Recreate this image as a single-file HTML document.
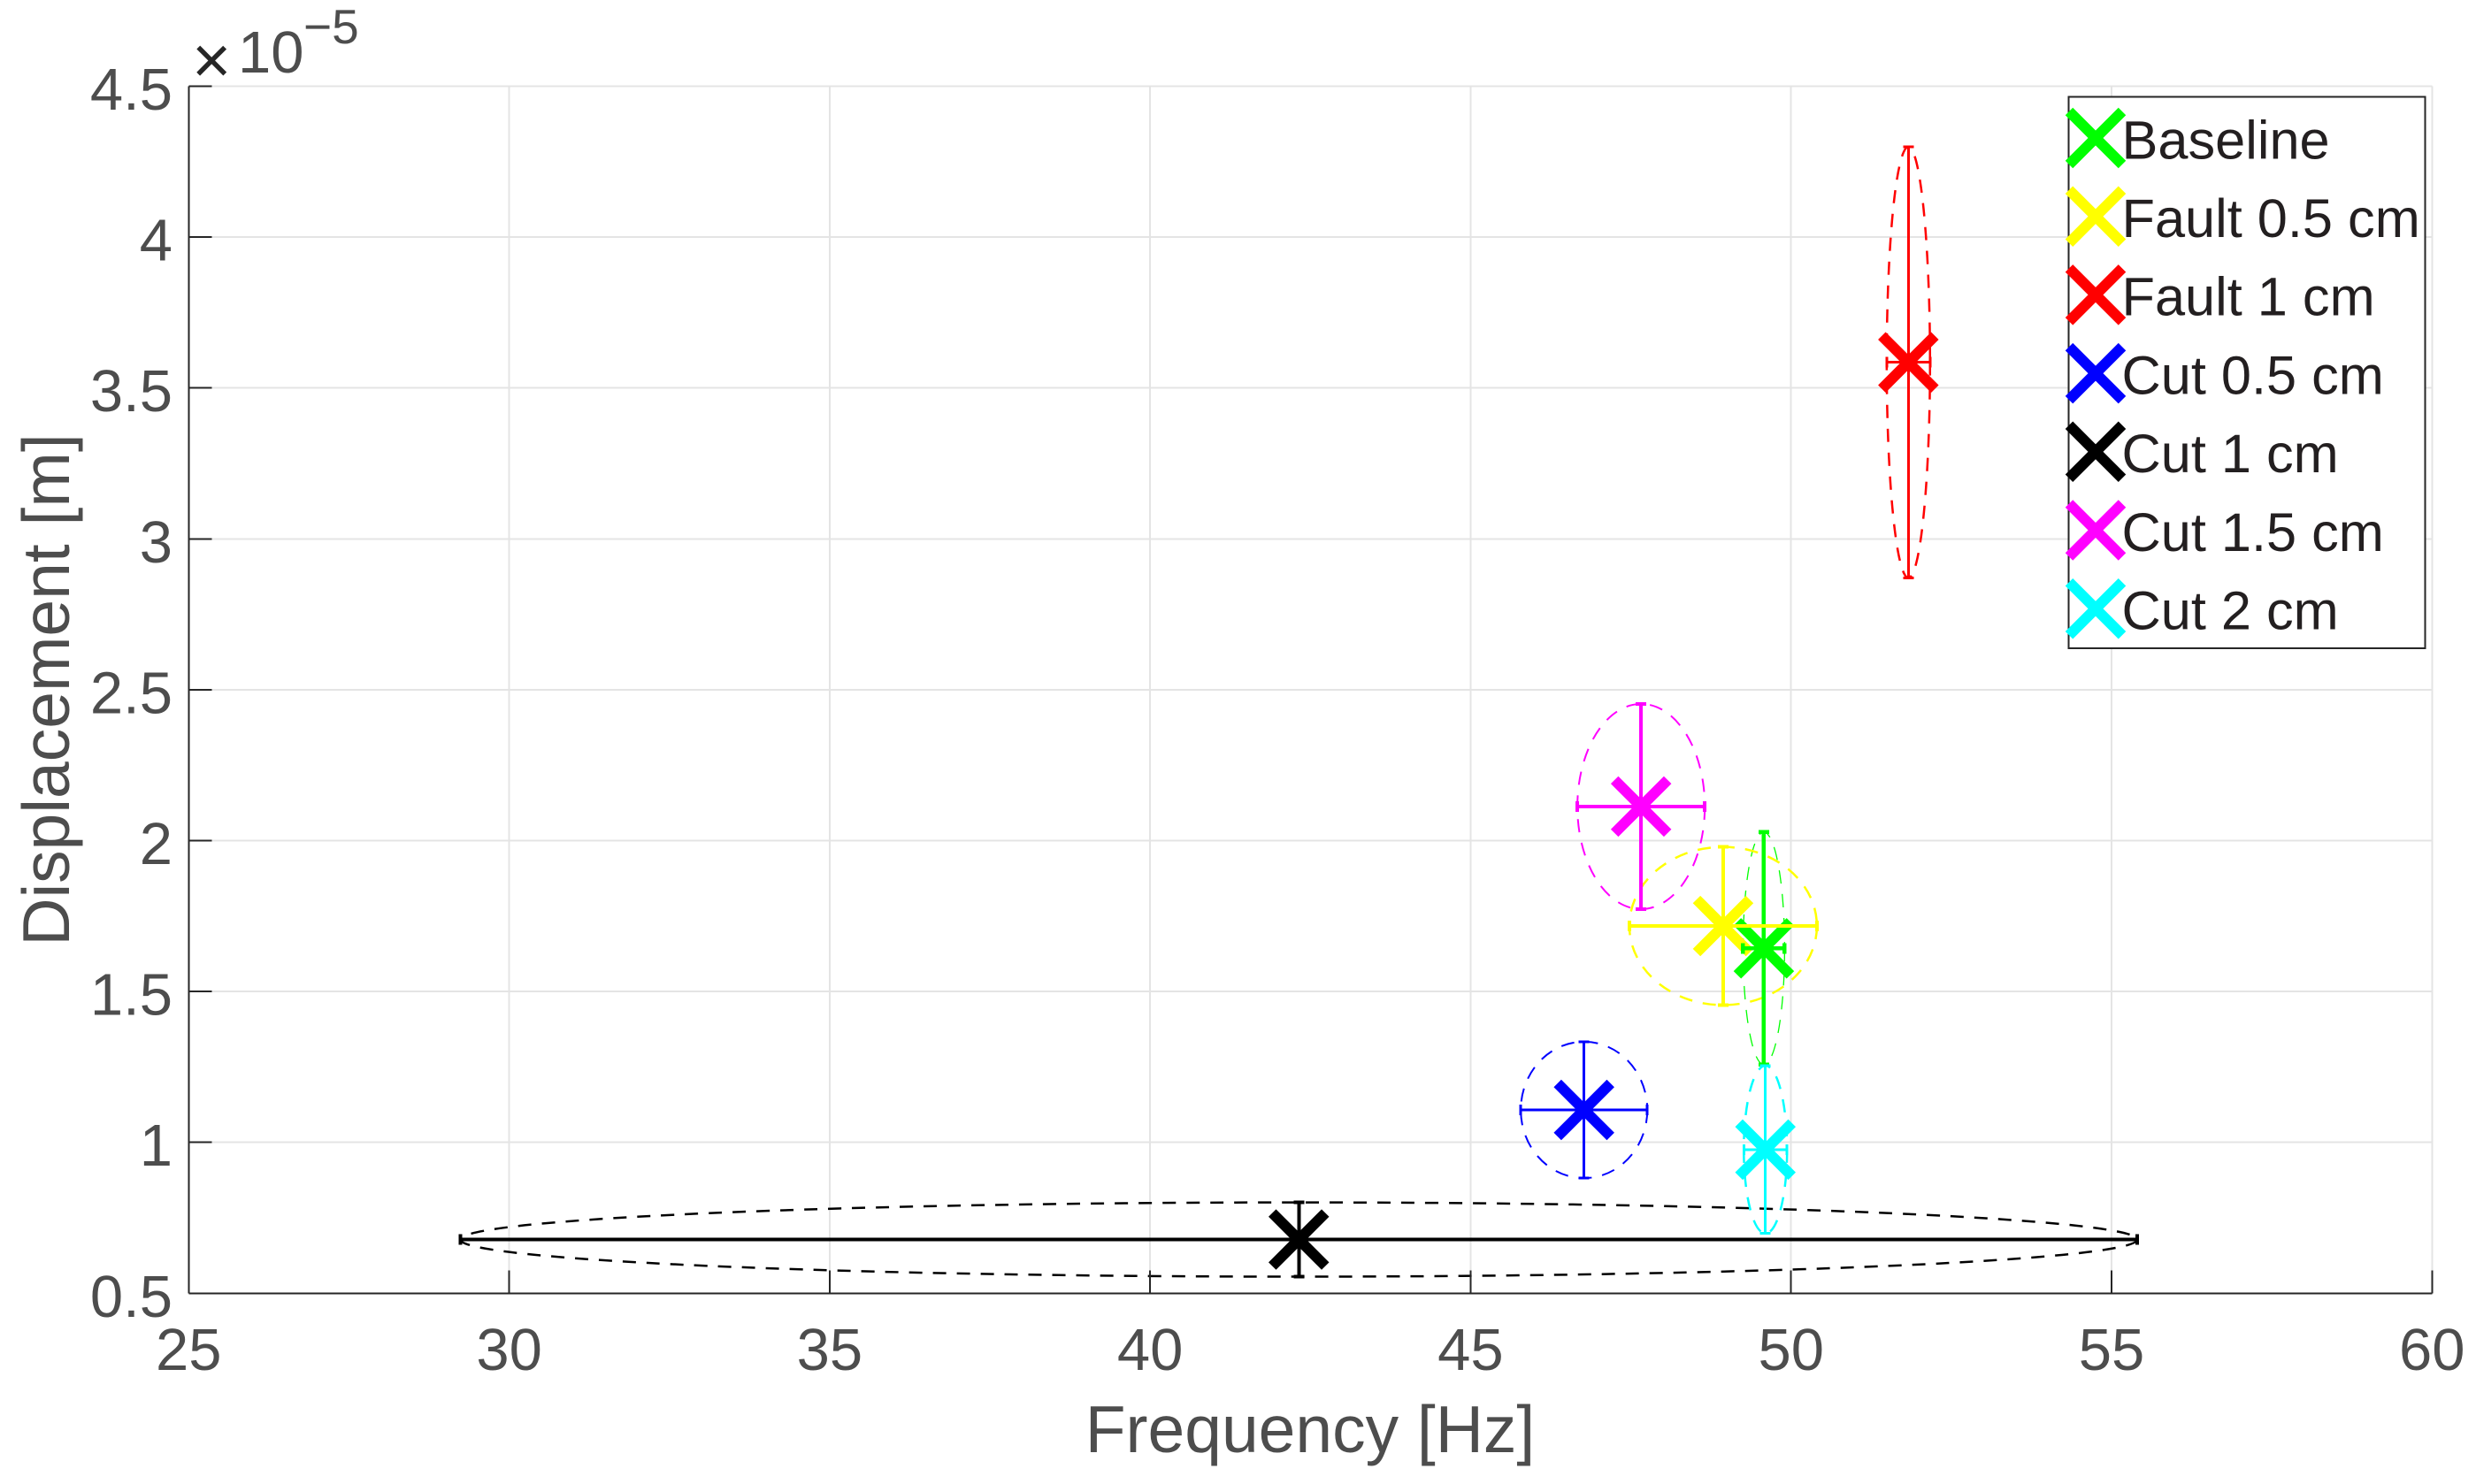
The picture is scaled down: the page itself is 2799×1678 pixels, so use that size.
<!DOCTYPE html>
<html lang="en">
<head>
<meta charset="utf-8">
<title>Displacement versus frequency</title>
<style>
html,body{margin:0;padding:0;background:#fff;}
svg{display:block;font-family:"Liberation Sans",Arial,sans-serif;}
</style>
</head>
<body>
<svg id="chart" xmlns="http://www.w3.org/2000/svg" width="2799" height="1678" viewBox="0 0 2799 1678">
  <rect x="0" y="0" width="2799" height="1678" fill="#fff"/>
  <g id="grid"></g>
  <g id="ellipses"></g>
  <g id="markers"></g>
  <g id="bars"></g>
  <g id="axes"></g>
  <g id="legend"></g>
  <text transform="translate(78 780) rotate(-90)" text-anchor="middle" font-size="75" fill="#4d4d4d">Displacement [m]</text>
  <text x="1481" y="1642" text-anchor="middle" font-size="75" fill="#4d4d4d">Frequency [Hz]</text>
  <g>
    <text x="217" y="94" font-size="76" fill="#262626">×</text>
    <text x="269" y="82" font-size="67" fill="#4d4d4d">10</text>
    <text x="343" y="49" font-size="55" fill="#4d4d4d">−5</text>
  </g>
</svg>
<script>
const categories = ['Baseline', 'Fault 0.5 cm', 'Fault 1 cm', 'Cut 0.5 cm', 'Cut 1 cm', 'Cut 1.5 cm', 'Cut 2 cm'];
const frequencyMeans = [49.575, 48.94, 51.83, 46.77, 42.32, 47.66, 49.6];
const frequencyErrors = [0.324, 1.463, 0.338, 0.987, 13.08, 0.994, 0.338];
const displacementMeans = [1.643, 1.717, 3.585, 1.1075, 0.678, 2.113, 0.976];
const displacementErrors = [0.385, 0.262, 0.714, 0.226, 0.123, 0.34, 0.278];
const xTicks = [25, 30, 35, 40, 45, 50, 55, 60];
const yTicks = [0.5, 1, 1.5, 2, 2.5, 3, 3.5, 4, 4.5];

const seriesColors = ['#00ff00', '#ffff00', '#ff0000', '#0000ff', '#000000', '#ff00ff', '#00ffff'];
const barWidths = [4.5, 4, 3, 3, 4, 4, 3];
const ellipseWidths = [1.3, 2.5, 2.5, 2, 2.5, 2, 2.5];
const markerOrder = [1, 0, 2, 3, 4, 5, 6];

const NS = 'http://www.w3.org/2000/svg';
const plotLeft = 213.3, plotRight = 2749.3, plotTop = 97.5, plotBottom = 1462.3;
const xMin = xTicks[0], xMax = xTicks[xTicks.length - 1];
const yMin = yTicks[0], yMax = yTicks[yTicks.length - 1];
function xScale(v) { return plotLeft + (v - xMin) / (xMax - xMin) * (plotRight - plotLeft); }
function yScale(v) { return plotBottom - (v - yMin) / (yMax - yMin) * (plotBottom - plotTop); }
function slug(s) { return s.toLowerCase().replace(/[^a-z0-9]+/g, '-'); }

function line(parent, x1, y1, x2, y2, color, width, crisp) {
  const el = document.createElementNS(NS, 'line');
  el.setAttribute('x1', x1);
  el.setAttribute('y1', y1);
  el.setAttribute('x2', x2);
  el.setAttribute('y2', y2);
  el.setAttribute('stroke', color);
  el.setAttribute('stroke-width', width);
  if (crisp) el.setAttribute('shape-rendering', 'crispEdges');
  parent.appendChild(el);
  return el;
}

function text(parent, x, y, str, size, color, anchor) {
  const el = document.createElementNS(NS, 'text');
  el.setAttribute('x', x);
  el.setAttribute('y', y);
  el.setAttribute('font-size', size);
  el.setAttribute('fill', color);
  el.setAttribute('text-anchor', anchor);
  el.textContent = str;
  parent.appendChild(el);
  return el;
}

function cross(parent, cx, cy, color, name) {
  const half = 30;
  const el = document.createElementNS(NS, 'path');
  el.setAttribute('d', 'M' + (cx - half) + ' ' + (cy - half) + 'L' + (cx + half) + ' ' + (cy + half) +
    'M' + (cx - half) + ' ' + (cy + half) + 'L' + (cx + half) + ' ' + (cy - half));
  el.setAttribute('stroke', color);
  el.setAttribute('stroke-width', 12);
  el.setAttribute('fill', 'none');
  
  
  parent.appendChild(el);
  return el;
}

const gridGroup = document.getElementById('grid');
const axesGroup = document.getElementById('axes');
const gridColor = '#e4e4e4', axisColor = '#262626', tickTextColor = '#4d4d4d';

xTicks.forEach(function (t) {
  const px = xScale(t);
  const g = line(gridGroup, px, plotTop, px, plotBottom, gridColor, 2, true);
  
  
  if (t !== xMin) {
    const k = line(axesGroup, px, plotBottom - 26, px, plotBottom, axisColor, 2, true);
    
    
  }
  const lab = text(axesGroup, px, 1549, String(t), 67, tickTextColor, 'middle');
  
  
});

yTicks.forEach(function (t) {
  const py = yScale(t);
  const g = line(gridGroup, plotLeft, py, plotRight, py, gridColor, 2, true);
  
  
  if (t !== yMin) {
    const k = line(axesGroup, plotLeft, py, plotLeft + 26, py, axisColor, 2, true);
    
    
  }
  const lab = text(axesGroup, 195, py + 26.5, String(t), 67, tickTextColor, 'end');
  
  
});

const yAxisLine = line(axesGroup, plotLeft, plotTop, plotLeft, plotBottom, axisColor, 2, true);


const xAxisLine = line(axesGroup, plotLeft, plotBottom, plotRight, plotBottom, axisColor, 2, true);



const ellipseGroup = document.getElementById('ellipses');
const markerGroup = document.getElementById('markers');
const barGroup = document.getElementById('bars');
const capHalf = 6;

categories.forEach(function (cat, i) {
  const name = slug(cat);
  const color = seriesColors[i];
  const cx = xScale(frequencyMeans[i]);
  const cy = yScale(displacementMeans[i]);
  const xLo = xScale(frequencyMeans[i] - frequencyErrors[i]);
  const xHi = xScale(frequencyMeans[i] + frequencyErrors[i]);
  const yLo = yScale(displacementMeans[i] - displacementErrors[i]);
  const yHi = yScale(displacementMeans[i] + displacementErrors[i]);

  const ell = document.createElementNS(NS, 'ellipse');
  ell.setAttribute('cx', cx);
  ell.setAttribute('cy', cy);
  ell.setAttribute('rx', (xHi - xLo) / 2);
  ell.setAttribute('ry', (yLo - yHi) / 2);
  ell.setAttribute('fill', 'none');
  ell.setAttribute('stroke', color);
  ell.setAttribute('stroke-width', ellipseWidths[i]);
  ell.setAttribute('stroke-dasharray', '15 12');
  
  
  ellipseGroup.appendChild(ell);

  const w = barWidths[i];
  const group = document.createElementNS(NS, 'g');
  
  
  barGroup.appendChild(group);
  const segments = [
    [xLo, cy, xHi, cy],
    [cx, yHi, cx, yLo],
    [xLo, cy - capHalf, xLo, cy + capHalf],
    [xHi, cy - capHalf, xHi, cy + capHalf],
    [cx - capHalf, yHi, cx + capHalf, yHi],
    [cx - capHalf, yLo, cx + capHalf, yLo]
  ];
  segments.forEach(function (s) {
    const seg = line(group, s[0], s[1], s[2], s[3], color, w, true);
    
    
  });
});

markerOrder.forEach(function (i) {
  cross(markerGroup, xScale(frequencyMeans[i]), yScale(displacementMeans[i]), seriesColors[i], 'marker-' + slug(categories[i]));
});

const legendGroup = document.getElementById('legend');
const legendBox = document.createElementNS(NS, 'rect');
legendBox.setAttribute('x', 2338.5);
legendBox.setAttribute('y', 109.5);
legendBox.setAttribute('width', 403);
legendBox.setAttribute('height', 623.5);
legendBox.setAttribute('fill', '#fff');
legendBox.setAttribute('stroke', '#262626');
legendBox.setAttribute('stroke-width', 2);
legendBox.setAttribute('shape-rendering', 'crispEdges');


legendGroup.appendChild(legendBox);

categories.forEach(function (cat, i) {
  const rowY = 156 + i * 88.7;
  const entry = document.createElementNS(NS, 'g');
  
  
  legendGroup.appendChild(entry);
  cross(entry, 2369, rowY, seriesColors[i], 'legend-marker');
  const t = text(entry, 2398.5, rowY + 23.3, cat, 61.3, '#231f20', 'start');
  
  
});
</script>
</body>
</html>
